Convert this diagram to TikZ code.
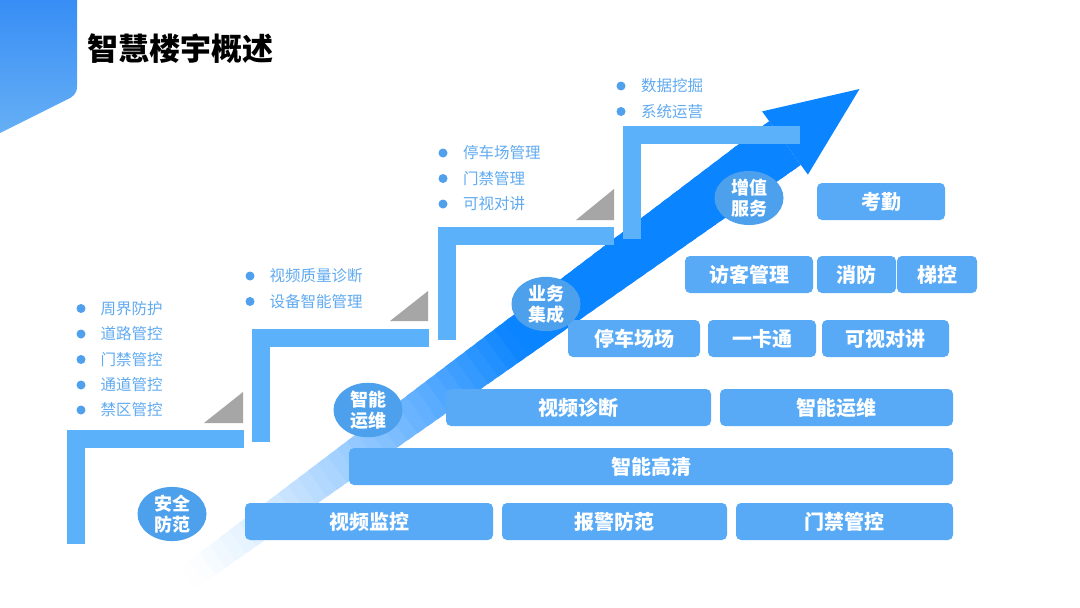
\documentclass[tikz,border=0pt]{standalone}
\usepackage{fontspec}
\setmainfont{Noto Sans CJK SC}
\usetikzlibrary{shapes.geometric}
\definecolor{boxblue}{RGB}{88,170,246}
\definecolor{stepblue}{RGB}{92,178,250}
\definecolor{ellblue}{RGB}{76,160,236}
\definecolor{arrowblue}{RGB}{10,132,255}
\definecolor{trigray}{RGB}{166,166,166}
\definecolor{listblue}{RGB}{96,170,240}
\definecolor{dotblue}{RGB}{80,160,238}
\definecolor{cornertop}{RGB}{56,142,245}
\definecolor{cornerbot}{RGB}{102,175,245}
\tikzset{
  boxnode/.style={fill=boxblue, rounded corners=5pt, text=white, inner sep=0pt,
    minimum height=37pt, font=\bfseries\fontsize{20}{24}\selectfont},
  ellnode/.style={ellipse, fill=ellblue, text=white, inner sep=0pt,
    minimum width=69pt, minimum height=53pt, align=center,
    font=\bfseries\fontsize{18}{21}\selectfont},
  stepline/.style={draw=stepblue, line width=18pt, line cap=butt, line join=miter},
  tri/.style={fill=trigray},
  listitem/.style={anchor=west, inner sep=0pt, text=listblue, font=\fontsize{15.5}{18}\selectfont},
  dot/.style={fill=dotblue},
}
\begin{document}
\begin{tikzpicture}[x=1pt,y=-1pt]
\useasboundingbox (0,0) rectangle (1080,608);
\fill[white] (0,0) rectangle (1080,608);
% top-left corner shape
\shade[top color=cornertop, bottom color=cornerbot]
  (0,0) -- (77,0) -- (77,86) .. controls (77,94) and (73,97) .. (66,100) -- (0,133) -- cycle;
% title
\node[anchor=west, inner sep=0pt, font=\bfseries\fontsize{31}{36}\selectfont] (title) at (87,49) {智慧楼宇概述};
% big arrow shaft (fading towards tail)
\foreach \i in {0,...,59}{
  \pgfmathsetmacro\ta{\i/60}
  \pgfmathsetmacro\tb{min(1,(\i+1.6)/60)}
  \pgfmathsetmacro\pc{100*min(1,(\ta+0.008)/0.55)^1.3}
  \pgfmathsetmacro\wa{13+14*\ta}
  \pgfmathsetmacro\wb{13+14*\tb}
  \fill[arrowblue!\pc!white]
    ({188+597*\ta-\wa*0.5866},{578-435*\ta-\wa*0.8099}) --
    ({188+597*\tb-\wb*0.5866},{578-435*\tb-\wb*0.8099}) --
    ({188+597*\tb+\wb*0.5866},{578-435*\tb+\wb*0.8099}) --
    ({188+597*\ta+\wa*0.5866},{578-435*\ta+\wa*0.8099}) -- cycle;
}
% arrow head
\fill[arrowblue] (762.1,111.4) -- (859.5,89) -- (807.9,174.6) -- cycle;
% steps
\draw[stepline] (76,544) -- (76,439) -- (244,439);
\draw[stepline] (261,442) -- (261,337.5) -- (429,337.5);
\draw[stepline] (447,340) -- (447,236) -- (614,236);
\draw[stepline] (632,239) -- (632,135) -- (800,135);
% gray triangles
\fill[tri] (204,423) -- (243,423) -- (243,392) -- cycle;
\fill[tri] (390,321) -- (428,321) -- (428,291) -- cycle;
\fill[tri] (576,220) -- (614,220) -- (614,189) -- cycle;
% bullet lists
\foreach \t/\y [count=\k] in {周界防护/308.5,道路管控/334,门禁管控/359.5,通道管控/385,禁区管控/410}{
  \fill[dot] (81,\y) circle (4.5);
  \node[listitem] (la\k) at (100.5,\y) {\t};
}
\foreach \t/\y [count=\k] in {视频质量诊断/276,设备智能管理/301.5}{
  \fill[dot] (250,\y) circle (4.5);
  \node[listitem] (lb\k) at (269.5,\y) {\t};
}
\foreach \t/\y [count=\k] in {停车场管理/153,门禁管理/178.5,可视对讲/204}{
  \fill[dot] (443,\y) circle (4.5);
  \node[listitem] (lc\k) at (463,\y) {\t};
}
\foreach \t/\y [count=\k] in {数据挖掘/86,系统运营/111.5}{
  \fill[dot] (621,\y) circle (4.5);
  \node[listitem] (ld\k) at (641,\y) {\t};
}
% boxes
\node[boxnode, minimum width=248pt] (b11) at (369,521.5) {视频监控};
\node[boxnode, minimum width=225pt] (b12) at (614.5,521.5) {报警防范};
\node[boxnode, minimum width=217pt] (b13) at (844.5,521.5) {门禁管控};
\node[boxnode, minimum width=604pt] (b21) at (651,466.5) {智能高清};
\node[boxnode, minimum width=265pt] (b31) at (578.5,407.5) {视频诊断};
\node[boxnode, minimum width=233pt] (b32) at (836.5,407.5) {智能运维};
\node[boxnode, minimum width=132pt] (b41) at (634,338.5) {停车场场};
\node[boxnode, minimum width=108pt] (b42) at (762,338.5) {一卡通};
\node[boxnode, minimum width=127pt] (b43) at (885.5,338.5) {可视对讲};
\node[boxnode, minimum width=128pt] (b51) at (749,274.5) {访客管理};
\node[boxnode, minimum width=79pt] (b52) at (856.5,274.5) {消防};
\node[boxnode, minimum width=80pt] (b53) at (937,274.5) {梯控};
\node[boxnode, minimum width=128pt] (b61) at (881,201.5) {考勤};
% ellipses
\node[ellnode] (e1) at (172,514) {安全\\防范};
\node[ellnode] (e2) at (368,410) {智能\\运维};
\node[ellnode] (e3) at (546,304) {业务\\集成};
\node[ellnode] (e4) at (749,198) {增值\\服务};
\end{tikzpicture}
\end{document}
